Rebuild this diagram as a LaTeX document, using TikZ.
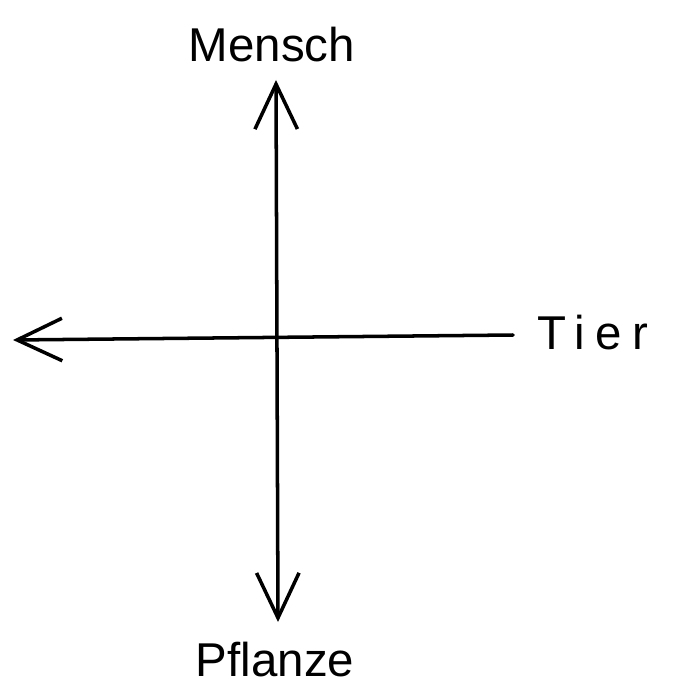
\documentclass[tikz,border=0pt]{standalone}
\usepackage{fontspec}
\setmainfont{Liberation Sans}
\newfontfamily\spacedfont[LetterSpace=22]{Liberation Sans}
\usetikzlibrary{arrows.meta}
\tikzset{
  axis/.style    = {black, line width=2pt, line cap=round,
                    >={Straight Barb[length=9mm, width=8.5mm, line width=2pt]}},
  axislbl/.style = {font=\fontsize{27}{30}\selectfont, inner sep=0pt},
}

\begin{document}
\begin{tikzpicture}[x=0.2mm, y=-0.2mm]
  \useasboundingbox (0,0) rectangle (675,688);
  % labels
  \node[axislbl] (mensch)  at (272,45)  {Mensch};
  \node[axislbl, font=\fontsize{27}{30}\spacedfont, anchor=west] (tier) at (537,333) {Tier};
  \node[axislbl] (pflanze) at (275,660) {Pflanze};
  % axis ends
  \coordinate (top)  at (276,80);
  \coordinate (bot)  at (278,622);
  \coordinate (lend) at (13,340);
  \coordinate (rend) at (513,335);
  \draw[axis, <->] (top) -- (bot);
  \draw[axis, ->]  (rend) -- (lend);
\end{tikzpicture}
\end{document}
